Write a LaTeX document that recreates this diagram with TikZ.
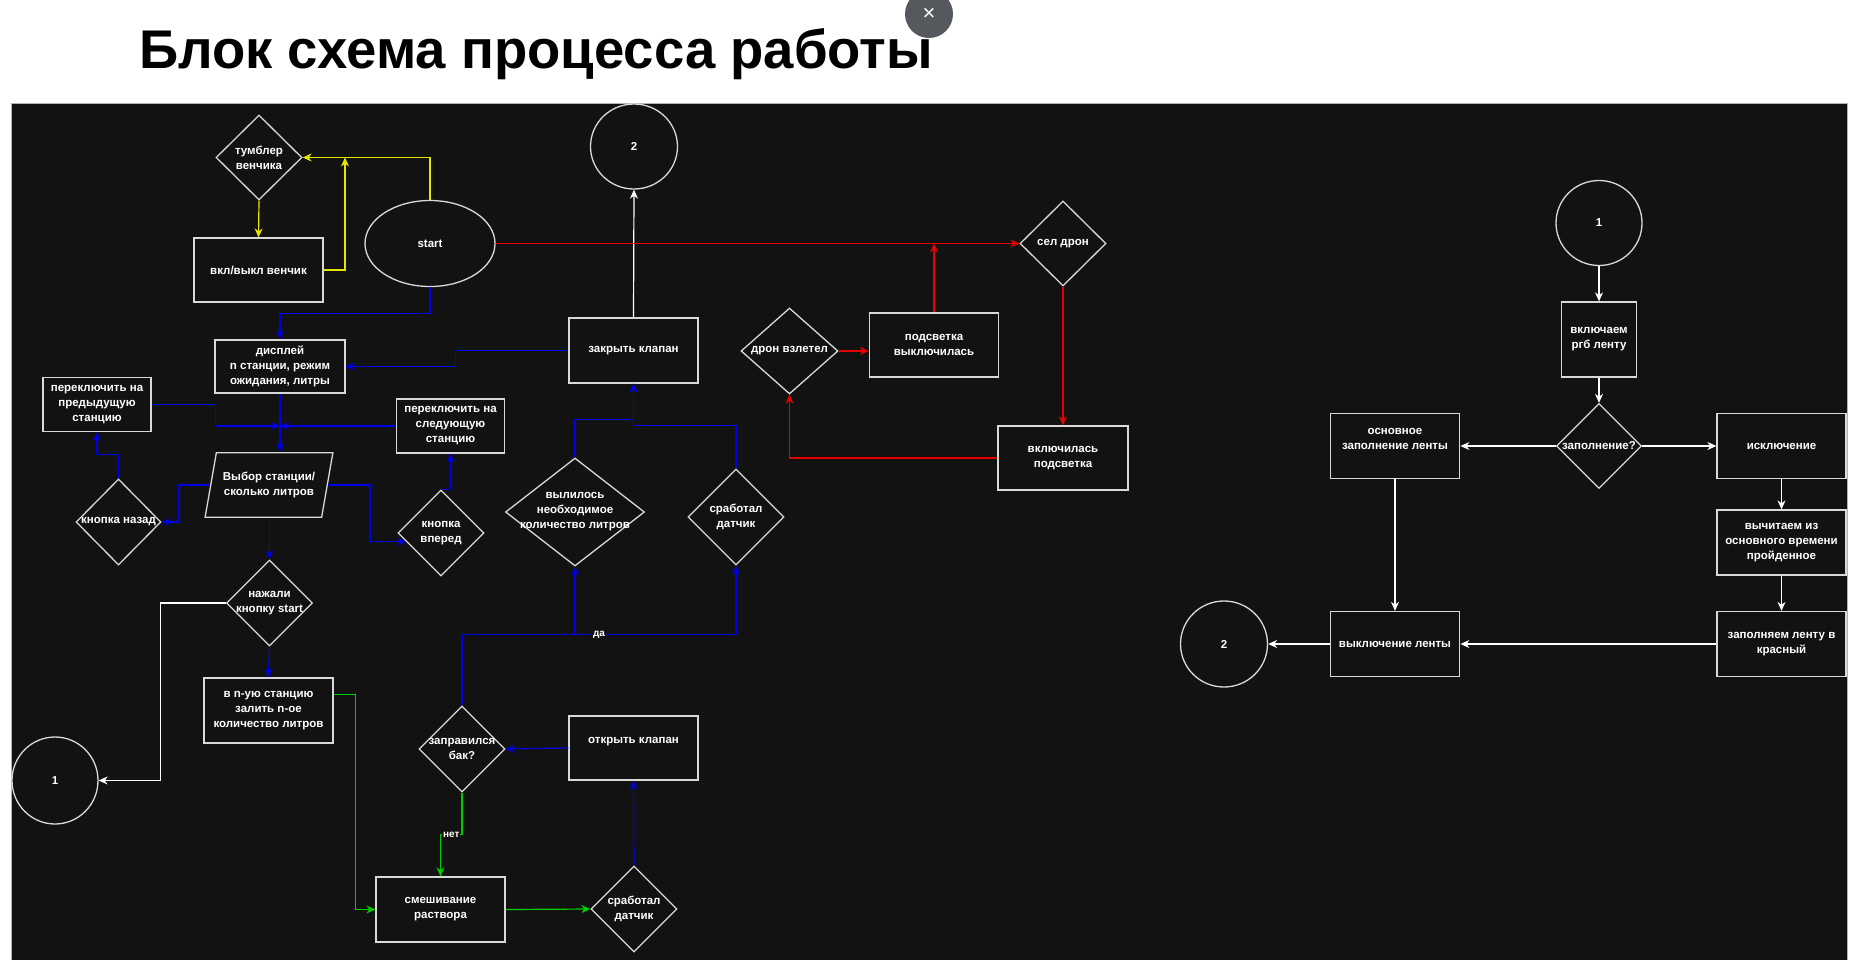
\documentclass[tikz,border=0pt]{standalone}
\usepackage{fontspec}
\setmainfont{Liberation Sans}
\usepackage{xcolor}
\usepackage{tikz}
\usetikzlibrary{arrows.meta,positioning,calc,shapes.geometric}
\definecolor{bgdark}{HTML}{121212}
\definecolor{fline}{HTML}{D9D9D9}
\definecolor{fblue}{HTML}{0000E6}
\definecolor{fred}{HTML}{E60000}
\definecolor{fgreen}{HTML}{00CC00}
\definecolor{fyellow}{HTML}{E6E600}
\definecolor{xbtn}{HTML}{55595E}
\tikzset{
  proc/.style={draw=fline, line width=1.3pt, text=white, align=center,
    font=\bfseries\fontsize{11.5}{15}\selectfont, inner sep=2pt},
  cond/.style={diamond, draw=fline, line width=1.3pt, inner sep=0pt},
  ctext/.style={text=white, align=center, font=\bfseries\fontsize{11.5}{15}\selectfont, inner sep=0pt},
  link/.style={ellipse, draw=fline, line width=1.3pt, text=white, font=\bfseries\fontsize{11.5}{15}\selectfont},
  wire/.style={line width=1.2pt, -{Stealth[length=9pt,width=8pt]}},
  elbl/.style={fill=bgdark, text=white, font=\bfseries\fontsize{10}{12}\selectfont, inner sep=1pt},
}

\begin{document}
\begin{tikzpicture}[x=1pt, y=-1pt]
\useasboundingbox (0,0) rectangle (1853,959);
\fill[white] (0,0) rectangle (1853,959);
\draw[fill=bgdark, draw=gray!60, line width=1pt] (11.5,103) rectangle (1847,962);
\node[anchor=base west, font=\bfseries\fontsize{54.5}{60}\selectfont, inner sep=0pt] (title) at (139,68) {Блок схема процесса работы};
\node[circle, fill=xbtn, minimum size=48pt, inner sep=0pt, text=white, font=\fontsize{22}{24}\selectfont] (closebtn) at (929,14) {×};

\node[cond, minimum width=86pt, minimum height=85pt, label={[ctext]center:тумблер\\венчика}] (tumb) at (259,157.5) {};
\node[proc, minimum width=129pt, minimum height=64pt] (whisk) at (258.5,270) {вкл/выкл венчик};
\node[link, minimum width=130pt, minimum height=86pt] (start) at (430,243.5) {start};
\node[proc, minimum width=130pt, minimum height=53pt] (disp) at (280,366.5) {дисплей\\n станции, режим\\ожидания, литры};
\node[proc, minimum width=108pt, minimum height=54pt] (prev) at (97,404.5) {переключить на\\предыдущую\\станцию};
\node[proc, minimum width=108pt, minimum height=54pt] (next) at (450.5,426) {переключить на\\следующую\\станцию};
\node[trapezium, trapezium left angle=72, trapezium right angle=108, trapezium stretches=true,
  draw=fline, line width=1.3pt, text=white, align=center, font=\bfseries\fontsize{11.5}{15}\selectfont,
  minimum width=128pt, minimum height=64.5pt] (choose) at (269,485) {Выбор станции/\\сколько литров};
\node[cond, minimum width=85pt, minimum height=86pt, label={[ctext]center:кнопка назад}] (back) at (118.5,522) {};
\node[cond, minimum width=86pt, minimum height=86pt, label={[ctext]center:кнопка\\вперед}] (fwd) at (441,533) {};
\node[cond, minimum width=86pt, minimum height=86pt, label={[ctext]center:нажали\\кнопку start}] (press) at (269.5,603) {};
\node[link, minimum width=86pt, minimum height=87pt] (one) at (55,780.5) {1};
\node[proc, minimum width=129pt, minimum height=65pt] (pour) at (268.5,710.5) {в n-ую станцию\\залить n-ое\\количество литров};
\node[proc, minimum width=129pt, minimum height=65pt] (mix) at (440.5,909.5) {смешивание\\раствора};
\node[cond, minimum width=86pt, minimum height=86pt, label={[ctext]center:заправился\\бак?}] (tank) at (462,749) {};
\node[cond, minimum width=139pt, minimum height=108pt, label={[ctext]center:вылилось\\необходимое\\количество литров}] (poured) at (575,512) {};
\node[cond, minimum width=96pt, minimum height=96pt, label={[ctext]center:сработал\\датчик}] (sensA) at (736,517) {};
\node[proc, minimum width=129pt, minimum height=65pt] (close) at (633.5,350.5) {закрыть клапан};
\node[link, minimum width=87pt, minimum height=85pt] (twoA) at (634,146.5) {2};
\node[cond, minimum width=86pt, minimum height=85pt, label={[ctext]center:сел дрон}] (land) at (1063,243.5) {};
\node[proc, minimum width=130pt, minimum height=64pt] (lighton) at (1063,458) {включилась\\подсветка};
\node[cond, minimum width=97pt, minimum height=86pt, label={[ctext]center:дрон взлетел}] (takeoff) at (789.5,351) {};
\node[proc, minimum width=129pt, minimum height=64pt] (lightoff) at (934,345) {подсветка\\выключилась};
\node[proc, minimum width=129pt, minimum height=64pt] (open) at (633.5,748) {открыть клапан\\~};
\node[cond, minimum width=86pt, minimum height=86pt, label={[ctext]center:сработал\\датчик}] (sensB) at (634,909) {};

\node[link, minimum width=86pt, minimum height=85pt] (oneB) at (1599,223) {1};
\node[proc, minimum width=75.5pt, minimum height=75pt] (rgb) at (1599,339.5) {включаем\\ргб ленту};
\node[cond, minimum width=85pt, minimum height=85pt, label={[ctext]center:заполнение?}] (fillq) at (1599,446) {};
\node[proc, minimum width=129.5pt, minimum height=65pt] (mainf) at (1395,446) {основное\\заполнение ленты\\~};
\node[proc, minimum width=129pt, minimum height=65pt] (excl) at (1781.5,446) {исключение};
\node[proc, minimum width=129pt, minimum height=65pt] (subt) at (1781.5,542.5) {вычитаем из\\основного времени\\пройденное};
\node[proc, minimum width=129pt, minimum height=65pt] (redf) at (1781.5,644) {заполняем ленту в\\красный};
\node[proc, minimum width=129.5pt, minimum height=65pt] (offl) at (1395,644) {выключение ленты};
\node[link, minimum width=87pt, minimum height=86pt] (twoB) at (1224,644) {2};

\coordinate (yjoin) at (345,157.5);
\coordinate (pick) at (280,426);
\draw[wire, fyellow] (start.north) |- (tumb.east);
\draw[wire, fyellow] (tumb.south) -- (whisk.north);
\draw[wire, fyellow] (whisk.east) -| (yjoin);
\draw[wire, fblue] (start.south) -- ++(0,26) -| (disp.north);
\draw[wire, fblue] (close.west) -- ++(-113,0) |- (disp.east);
\draw[wire, fblue] (prev.east) -- ++(64,0) |- (pick);
\draw[wire, fblue] (next.west) -- (pick);
\draw[wire, fblue] (disp.south) -- (disp.south |- choose.north);
\draw[wire, fblue] (choose.west) -- ++(-31,0) |- (back.east);
\draw[wire, fblue] (back.north) -- ++(0,-24) -| (prev.south);
\draw[wire, fblue] (choose.east) -- ++(42,0) |- ($(fwd.west)!0.2!(fwd.south)$);
\draw[wire, fblue] (fwd.north) -| (next.south);
\draw[wire, fblue] (press.north |- choose.south) -- (press.north);
\draw[wire, white] (press.west) -- ++(-65,0) |- (one.east);
\draw[wire, fblue] (press.south) -- (pour.north);
\draw[wire, fgreen] ($(pour.east)+(0,-16)$) -- ++(22,0) |- (mix.west);
\draw[wire, fgreen] (tank.south) -- ++(0,42) -| node[elbl, pos=0.25] {нет} (mix.north);
\draw[wire, fblue] (tank.north) -- ++(0,-71) coordinate (yes) -| (poured.south);
\draw[wire, fblue] (yes) -| node[elbl, pos=0.25] {да} (sensA.south);
\draw[wire, fblue] (poured.north) -- ++(0,-38) -| (close.south);
\draw[wire, fblue] (sensA.north) -- ++(0,-43) -| (close.south);
\draw[wire, white] (close.north) -- (twoA.south);
\draw[wire, fred] (start.east) -- (land.west);
\draw[wire, fred] (land.south) -- (lighton.north);
\draw[wire, fred] (lighton.west) -| (takeoff.south);
\draw[wire, fred] (takeoff.east) -- (takeoff.east -| lightoff.west);
\draw[wire, fred] (lightoff.north) -- (lightoff.north |- start.east);
\draw[wire, fblue] (open.west) -- (tank.east);
\draw[wire, fgreen] (mix.east) -- (sensB.west);
\draw[wire, fblue] (sensB.north) -- (open.south);

\draw[wire, white] (oneB.south) -- (rgb.north);
\draw[wire, white] (rgb.south) -- (fillq.north);
\draw[wire, white] (fillq.west) -- (mainf.east);
\draw[wire, white] (fillq.east) -- (excl.west);
\draw[wire, white] (excl.south) -- (subt.north);
\draw[wire, white] (subt.south) -- (redf.north);
\draw[wire, white] (redf.west) -- (offl.east);
\draw[wire, white] (mainf.south) -- (offl.north);
\draw[wire, white] (offl.west) -- (twoB.east);
\end{tikzpicture}
\end{document}
